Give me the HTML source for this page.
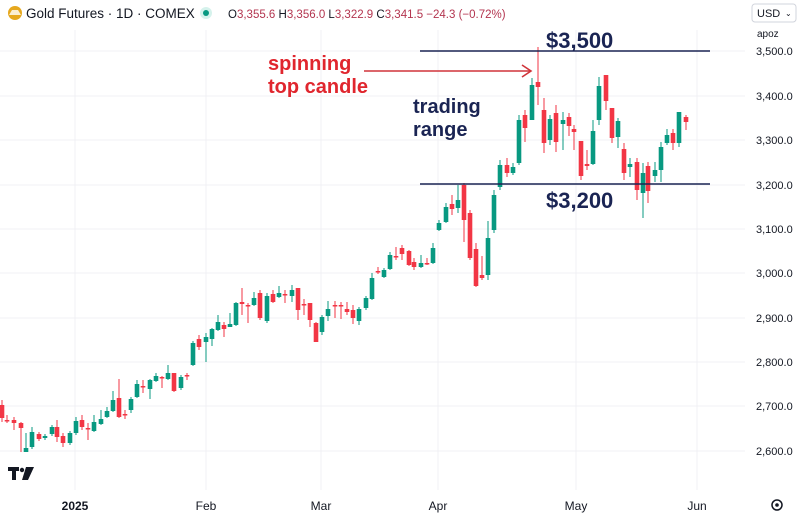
<!DOCTYPE html>
<html><head><meta charset="utf-8"><style>
body{margin:0;background:#fff;width:800px;height:515px;overflow:hidden;font-family:"Liberation Sans",sans-serif}
</style></head><body>
<svg width="800" height="515" xmlns="http://www.w3.org/2000/svg" font-family="Liberation Sans, sans-serif">
<rect width="800" height="515" fill="#fff"/>
<g stroke="#f0f1f4" stroke-width="1">
<line x1="0" y1="51" x2="745" y2="51"/><line x1="0" y1="96" x2="745" y2="96"/><line x1="0" y1="140" x2="745" y2="140"/><line x1="0" y1="185" x2="745" y2="185"/><line x1="0" y1="229" x2="745" y2="229"/><line x1="0" y1="273" x2="745" y2="273"/><line x1="0" y1="318" x2="745" y2="318"/><line x1="0" y1="362" x2="745" y2="362"/><line x1="0" y1="406" x2="745" y2="406"/><line x1="0" y1="451" x2="745" y2="451"/>
<line x1="75" y1="30" x2="75" y2="490"/><line x1="206" y1="30" x2="206" y2="490"/><line x1="321" y1="30" x2="321" y2="490"/><line x1="438" y1="30" x2="438" y2="490"/><line x1="576" y1="30" x2="576" y2="490"/><line x1="697" y1="30" x2="697" y2="490"/>
</g>
<g id="c"></g>
<g fill="#131722" font-size="11">
<text x="756" y="55">3,500.0</text><text x="756" y="100">3,400.0</text><text x="756" y="144">3,300.0</text><text x="756" y="189">3,200.0</text><text x="756" y="233">3,100.0</text><text x="756" y="277">3,000.0</text><text x="756" y="322">2,900.0</text><text x="756" y="366">2,800.0</text><text x="756" y="410">2,700.0</text><text x="756" y="455">2,600.0</text>
</g>
<g fill="#131722" font-size="12" text-anchor="middle">
<text x="75" y="510" font-weight="bold">2025</text><text x="206" y="510">Feb</text><text x="321" y="510">Mar</text><text x="438" y="510">Apr</text><text x="576" y="510">May</text><text x="697" y="510">Jun</text>
</g>
<circle cx="777" cy="505" r="5" fill="none" stroke="#131722" stroke-width="1.5"/><circle cx="777" cy="505" r="1.8" fill="#131722"/>
<rect x="752" y="4" width="44" height="18" rx="3" fill="#fff" stroke="#d1d4dc"/>
<text x="757" y="17" font-size="11" fill="#131722">USD</text><text x="785" y="16" font-size="8" fill="#131722">⌄</text>
<text x="757" y="37" font-size="10" fill="#131722">apoz</text>
<g fill="#131722"><rect x="8" y="467" width="11" height="4"/><rect x="12" y="467" width="4" height="13"/><circle cx="22" cy="470" r="2.2"/><polygon points="26,467 34,467 28,480 22,480"/></g>
<circle cx="15" cy="13" r="7" fill="#e6a81e"/><path d="M9 15 L21 15 L18 10 L12 10Z" fill="#fff" opacity=".8"/>
<text x="26" y="18" font-size="13.5" fill="#131722">Gold Futures · 1D · COMEX</text>
<circle cx="206" cy="13" r="6" fill="#d5f2ec"/><circle cx="206" cy="13" r="3" fill="#089981"/>
<text x="228" y="18" font-size="11.5" fill="#131722">O<tspan fill="#b3354f">3,355.6 </tspan>H<tspan fill="#b3354f">3,356.0 </tspan>L<tspan fill="#b3354f">3,322.9 </tspan>C<tspan fill="#b3354f">3,341.5 −24.3 (−0.72%)</tspan></text>
<g stroke="#1a2453" stroke-width="1.6"><line x1="420" y1="51" x2="710" y2="51"/><line x1="420" y1="184" x2="710" y2="184"/></g>
<g fill="#1a2453" font-size="22" font-weight="bold"><text x="546" y="48">$3,500</text><text x="546" y="208">$3,200</text>
<text x="413" y="113" font-size="20">trading</text><text x="413" y="136" font-size="20">range</text></g>
<g fill="#e0262e" font-size="20" font-weight="bold"><text x="268" y="70">spinning</text><text x="268" y="93">top candle</text></g>
<g stroke="#d0343a" stroke-width="1.6" fill="none"><line x1="364" y1="71" x2="531" y2="71"/><polyline points="522,65 531,71 522,77"/></g>
</svg>
<script>
var d=[[2,405,418,400,422],[7,420,420,415,423],[14,420,423,417,430],[21,423,428,422,452],[26,452,448,433,452],[32,447,432,427,449],[39,434,439,432,441],[45,438,436,434,440],[52,434,427,425,436],[57,427,437,420,442],[63,436,443,433,447],[70,443,433,431,445],[76,433,421,417,435],[82,420,427,415,430],[88,428,428,423,440],[94,431,422,415,432],[101,424,419,410,425],[107,417,411,407,418],[113,411,400,391,412],[119,398,417,379,418],[125,414,414,410,419],[131,410,399,397,413],[137,397,384,380,398],[143,386,386,380,393],[150,389,380,379,399],[156,381,376,373,382],[162,377,377,376,388],[168,379,373,365,380],[174,373,391,373,392],[181,388,377,375,390],[187,375,375,373,380],[193,365,343,341,366],[199,339,347,335,350],[206,342,337,333,362],[212,339,329,328,346],[218,330,322,315,331],[224,325,329,322,337],[230,327,324,313,327],[236,325,303,302,326],[242,302,304,288,315],[248,305,305,303,323],[254,305,298,292,306],[260,293,318,290,320],[267,321,296,293,323],[273,294,302,290,303],[279,297,293,286,298],[285,294,294,290,303],[292,296,290,285,302],[298,288,310,288,320],[304,304,304,299,315],[310,303,320,303,327],[316,323,342,322,342],[322,332,317,315,335],[328,316,309,301,321],[335,305,305,301,318],[341,305,305,302,319],[347,309,312,302,315],[353,310,318,305,324],[359,321,309,307,325],[366,308,298,296,310],[372,299,278,273,300],[378,271,271,267,274],[384,277,270,268,278],[390,269,255,252,270],[396,256,256,247,260],[402,248,254,245,260],[409,251,265,250,266],[414,262,267,258,270],[421,267,263,255,268],[427,263,263,258,265],[433,263,248,243,264],[439,230,223,220,231],[446,222,207,203,223],[452,204,209,195,215],[458,208,200,185,213],[464,185,220,183,242],[470,213,258,210,260],[476,249,286,243,287],[482,275,278,256,280],[488,275,238,221,280],[494,230,195,190,233],[500,187,165,160,190],[507,165,173,158,177],[513,173,167,163,175],[519,163,120,115,165],[525,115,128,110,142],[532,120,85,78,120],[538,82,87,47,105],[544,110,143,98,153],[550,140,119,115,145],[556,113,142,105,152],[563,124,120,112,150],[569,117,126,113,136],[574,129,132,125,150],[581,141,176,141,180],[587,164,166,150,170],[593,164,131,120,165],[599,120,86,77,125],[606,75,101,75,110],[612,108,138,108,143],[618,137,121,118,148],[624,149,173,143,180],[630,167,164,158,177],[637,162,190,158,200],[643,193,173,163,218],[648,166,191,162,203],[655,176,170,162,182],[661,170,147,142,182],[667,143,135,129,145],[673,133,143,129,150],[679,143,112,112,147],[686,117,122,115,130]];
var s='';d.forEach(function(c){var up=c[2]<c[1],col=up?'#089981':'#f23645',t=Math.min(c[1],c[2]),h=Math.max(1.5,Math.abs(c[1]-c[2]));
s+='<line x1="'+c[0]+'" x2="'+c[0]+'" y1="'+c[3]+'" y2="'+c[4]+'" stroke="'+col+'" stroke-width="1"/><rect x="'+(c[0]-2.3)+'" y="'+t+'" width="4.6" height="'+h+'" fill="'+col+'"/>';});
document.getElementById('c').innerHTML=s;
</script>
</body></html>
